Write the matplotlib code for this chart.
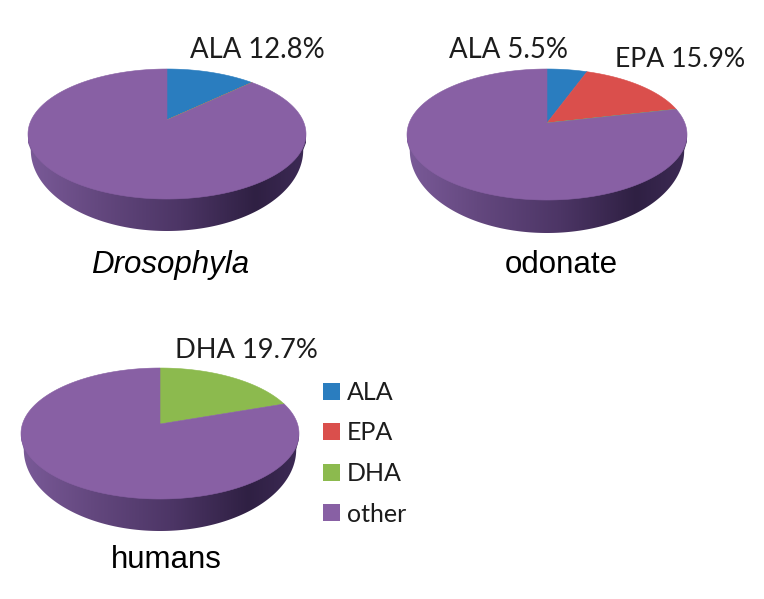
import numpy as np
import matplotlib
matplotlib.use("Agg")
import matplotlib.pyplot as plt
from matplotlib.patches import Patch, Polygon
from matplotlib.path import Path
from matplotlib.transforms import Transform, Affine2D
from matplotlib.colors import LinearSegmentedColormap

# ---- data -----
fatty_acids = ["ALA", "EPA", "DHA", "other"]
drosophyla = [12.8, 0.0, 0.0, 87.2]
odonate = [5.5, 15.9, 0.0, 78.6]
humans = [0.0, 0.0, 19.7, 80.3]
palette = ["#2a7dbf", "#da4f4c", "#8cba4e", "#8860a4"]
W, H = 764, 599


class Tilt(Transform):
    """Projects the flat unit pie onto a tilted disc, in pixel coordinates."""
    input_dims = output_dims = 2

    def __init__(self, cx, cy, up, down, half_width):
        super().__init__()
        self.k = (down - up) / (down + up)
        self.b = up * (1 + self.k)
        self.a = half_width * np.sqrt(1 - self.k ** 2)
        self.cx, self.cy = cx, cy

    def transform_non_affine(self, xy):
        xy = np.asarray(xy, float)
        d = 1 + self.k * xy[:, 1]
        return np.column_stack((self.cx + self.a * xy[:, 0] / d,
                                self.cy - self.b * xy[:, 1] / d))

    def transform_path_non_affine(self, path):
        poly = path.to_polygons(Affine2D().scale(3000), closed_only=False)[0] / 3000
        return Path(self.transform_non_affine(poly))


side_cmap = LinearSegmentedColormap.from_list(
    "side", [(0.0, "#7a5a98"), (0.25, "#64487f"), (0.55, "#4c3565"),
             (0.82, "#2f2043"), (1.0, "#3d2a55")])

fig = plt.figure(figsize=(W / 100, H / 100), dpi=100)
ax = fig.add_axes([0, 0, 1, 1])


def draw_pie(values, cx, cy, up, down, half_width, depth):
    top = Tilt(cx, cy, up, down, half_width)
    # side wall: rim's widest points, a short drop, then a deep half ellipse
    widest = top.transform_non_affine(np.array([[-1.0, -top.k], [1.0, -top.k]]))
    y_mid = widest[0, 1] + 16
    ry = cy + down + depth - y_mid
    t = np.linspace(np.pi, 0, 240)
    arc = np.column_stack((cx + 0.98 * half_width * np.cos(t), y_mid + ry * np.sin(t)))
    hull = np.vstack((widest[:1], arc, widest[1:]))
    side = Polygon(hull, closed=True, transform=ax.transData, facecolor="none", edgecolor="none")
    ax.add_patch(side)
    im = ax.imshow(np.linspace(0, 1, 256)[None, :], cmap=side_cmap, aspect="auto",
                   extent=(cx - half_width, cx + half_width, cy + down + depth + 2, cy - 20),
                   zorder=1)
    im.set_clip_path(side)
    wedges, _ = ax.pie(values, colors=palette, startangle=90, counterclock=False, radius=1)
    for w, colour in zip(wedges, palette):
        w.set_transform(top + ax.transData)
        w.set_edgecolor(colour)
        w.set_linewidth(0.4)
        w.set_zorder(2)


draw_pie(drosophyla, 167, 120, 51, 79, 139, 32)
draw_pie(odonate, 547, 123, 54, 77, 140, 33)
draw_pie(humans, 160, 424, 56, 75, 139, 32)

ax.set_aspect("auto")
ax.set_xlim(0, W)
ax.set_ylim(H, 0)
ax.set_axis_off()
fig.patch.set_facecolor("white")

lato = dict(family="Lato", color="#1c1c1c", va="baseline", ha="left", fontsize=19.8)
ax.text(190, 58, "ALA 12.8%", **lato)
ax.text(449, 58, "ALA 5.5%", **lato)
ax.text(615, 67, "EPA 15.9%", family="Lato", color="#1c1c1c", va="baseline", ha="left", fontsize=19.2)
ax.text(175, 358, "DHA 19.7%", family="Lato", color="#1c1c1c", va="baseline", ha="left", fontsize=19.6)

sans = dict(family="Liberation Sans", color="black", va="baseline", ha="center", fontsize=22.5)
ax.text(170, 273, "Drosophyla", style="italic", **sans)
ax.text(561, 273, "odonate", **sans)
ax.text(166, 568, "humans", **sans)

handles = [Patch(facecolor=c, edgecolor="none", label=n) for c, n in zip(palette, fatty_acids)]
ax.legend(handles=handles, loc="upper left", bbox_to_anchor=(323 / W, 1 - 381 / H),
          bbox_transform=fig.transFigure, frameon=False, handlelength=0.68, handleheight=0.68,
          handletextpad=0.28, labelspacing=0.7, borderpad=0, borderaxespad=0,
          prop=dict(family="Lato", size=18), labelcolor="#1c1c1c")

fig.savefig("out.png", dpi=100)
